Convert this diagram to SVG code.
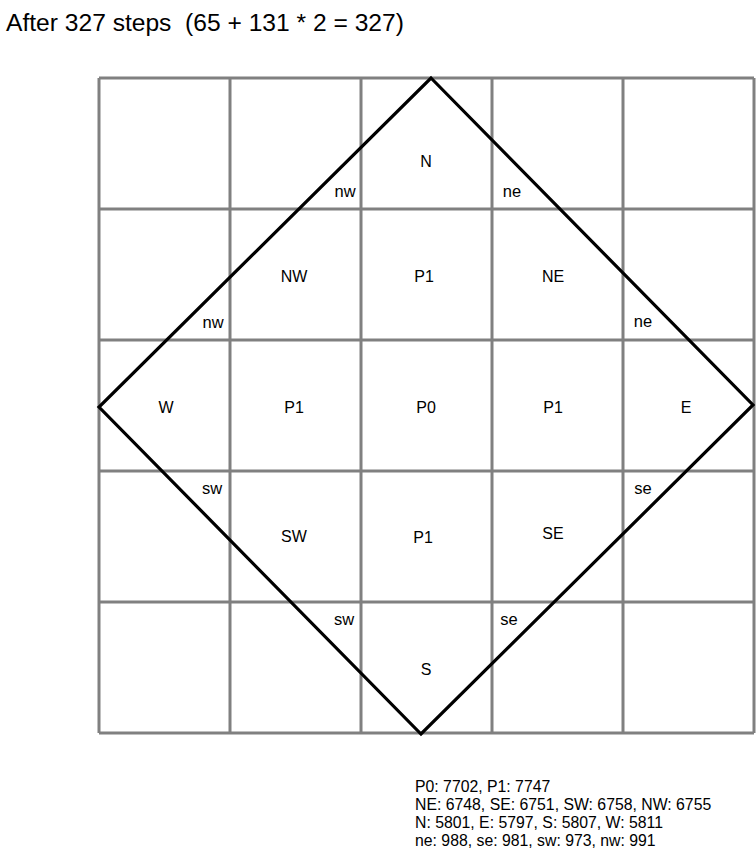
<svg xmlns="http://www.w3.org/2000/svg" width="756" height="856" viewBox="0 0 756 856">
<style>
  text { font-family: "Liberation Sans", Arial, sans-serif; fill: #000; }
  .title { font-size: 24.6px; white-space: pre; }
  .lbl { font-size: 16px; text-anchor: middle; }
  .sm { font-size: 16.5px; }
  .stats { font-size: 15.8px; }
  .grid line { stroke: #808080; stroke-width: 3; }
  .diamond { fill: none; stroke: #000; stroke-width: 3.2; stroke-linejoin: miter; }
</style>
<rect width="756" height="856" fill="#fff"/>
<text class="title" x="6" y="31" xml:space="preserve">After 327 steps  (65 + 131 * 2 = 327)</text>
<g id="grid" class="grid">
  <line x1="99" y1="78" x2="754" y2="78"/>
  <line x1="99" y1="209" x2="754" y2="209"/>
  <line x1="99" y1="340" x2="754" y2="340"/>
  <line x1="99" y1="471" x2="754" y2="471"/>
  <line x1="99" y1="602" x2="754" y2="602"/>
  <line x1="99" y1="733" x2="754" y2="733"/>
  <line x1="99" y1="78" x2="99" y2="733"/>
  <line x1="230" y1="78" x2="230" y2="733"/>
  <line x1="361" y1="78" x2="361" y2="733"/>
  <line x1="492" y1="78" x2="492" y2="733"/>
  <line x1="623" y1="78" x2="623" y2="733"/>
  <line x1="754" y1="78" x2="754" y2="733"/>
</g>
<g id="connectors">
  <polygon class="diamond" points="431,78 753,405 421,734 99,407"/>
</g>
<g id="labels">
  <g id="n"><text class="lbl" x="426" y="167">N</text></g>
  <g id="nw-top"><text class="lbl sm" x="345" y="197">nw</text></g>
  <g id="ne-top"><text class="lbl sm" x="512" y="197">ne</text></g>
  <g id="NW"><text class="lbl" x="294" y="282">NW</text></g>
  <g id="P1-n"><text class="lbl" x="424" y="282">P1</text></g>
  <g id="NE"><text class="lbl" x="553" y="282">NE</text></g>
  <g id="nw-left"><text class="lbl sm" x="213" y="328">nw</text></g>
  <g id="ne-right"><text class="lbl sm" x="643" y="327">ne</text></g>
  <g id="W"><text class="lbl" x="166" y="413">W</text></g>
  <g id="P1-w"><text class="lbl" x="294" y="413">P1</text></g>
  <g id="P0"><text class="lbl" x="426" y="413">P0</text></g>
  <g id="P1-e"><text class="lbl" x="553" y="413">P1</text></g>
  <g id="E"><text class="lbl" x="686" y="413">E</text></g>
  <g id="sw-left"><text class="lbl sm" x="212" y="494">sw</text></g>
  <g id="se-right"><text class="lbl sm" x="643" y="494">se</text></g>
  <g id="SW"><text class="lbl" x="294" y="542">SW</text></g>
  <g id="P1-s"><text class="lbl" x="423" y="543">P1</text></g>
  <g id="SE"><text class="lbl" x="553" y="539">SE</text></g>
  <g id="sw-bot"><text class="lbl sm" x="344" y="625">sw</text></g>
  <g id="se-bot"><text class="lbl sm" x="509" y="625">se</text></g>
  <g id="S"><text class="lbl" x="426" y="675">S</text></g>
</g>
<g id="stats">
  <text class="stats" x="415" y="792">P0: 7702, P1: 7747</text>
  <text class="stats" x="415" y="810">NE: 6748, SE: 6751, SW: 6758, NW: 6755</text>
  <text class="stats" x="415" y="828">N: 5801, E: 5797, S: 5807, W: 5811</text>
  <text class="stats" x="415" y="846">ne: 988, se: 981, sw: 973, nw: 991</text>
</g>
</svg>
